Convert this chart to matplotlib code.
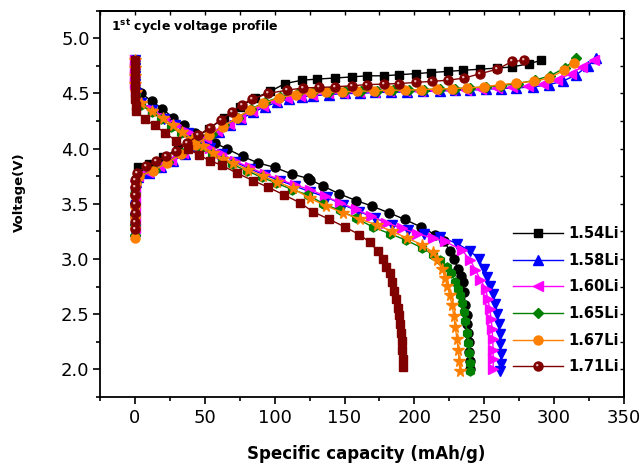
import numpy as np
import matplotlib
matplotlib.use("Agg")
import matplotlib.pyplot as plt
from matplotlib.path import Path
from matplotlib.ticker import MultipleLocator
from matplotlib.legend_handler import HandlerTuple

plt.rcParams['font.family'] = ['DejaVu Sans']
plt.rcParams['mathtext.fontset'] = 'dejavusans'

labels = ["1.54Li", "1.58Li", "1.60Li", "1.65Li", "1.67Li", "1.71Li"]
colors = ["#000000", "#0000FF", "#FF00FF", "#008000", "#FF8000", "#800000"]

# ---- charge curves (capacity mAh/g, voltage V) ----
c154_x = [0, 0, 0, 0.5, 2.2, 10, 20, 31, 42, 53, 64, 75, 86, 97, 107.4, 119.4, 130, 143, 155, 166, 178, 189, 201, 212, 224, 235, 247, 258.8, 270, 281.9, 290.8]
c154_v = [3.35, 3.50, 3.62, 3.72, 3.83, 3.86, 3.92, 4.00, 4.09, 4.18, 4.28, 4.38, 4.46, 4.52, 4.59, 4.62, 4.63, 4.64, 4.65, 4.66, 4.66, 4.67, 4.68, 4.69, 4.70, 4.71, 4.72, 4.73, 4.74, 4.77, 4.80]

c158_x = [0, 0, 0, 0, 0, 0.5, 2.2, 10, 18.9, 27, 35.7, 44, 52.4, 60, 67.9, 76, 84.7, 93, 101.4, 110, 119.4, 127.7, 139, 150, 161, 172, 183, 195, 206, 218, 229, 240, 251, 262, 273, 285, 296, 306, 316, 324, 330]
c158_v = [3.25, 3.35, 3.45, 3.55, 3.63, 3.70, 3.74, 3.78, 3.83, 3.89, 3.95, 4.02, 4.09, 4.15, 4.21, 4.27, 4.33, 4.38, 4.42, 4.45, 4.47, 4.48, 4.49, 4.50, 4.50, 4.51, 4.51, 4.515, 4.52, 4.52, 4.53, 4.53, 4.54, 4.545, 4.55, 4.56, 4.58, 4.61, 4.67, 4.75, 4.82]

c160_x = [0, 0, 0, 0, 0, 0.4, 2.0, 9, 17.5, 26, 34.5, 43, 51, 59, 67, 75, 83.5, 92, 100.5, 109, 118, 127, 138, 149, 160, 171, 182, 193, 204, 215, 226, 237, 248, 259, 270, 281, 292, 302, 312, 320, 328.5]
c160_v = [3.28, 3.38, 3.48, 3.57, 3.65, 3.71, 3.75, 3.79, 3.84, 3.90, 3.96, 4.03, 4.10, 4.16, 4.22, 4.28, 4.34, 4.39, 4.43, 4.46, 4.48, 4.49, 4.50, 4.505, 4.51, 4.515, 4.52, 4.52, 4.525, 4.53, 4.53, 4.535, 4.54, 4.55, 4.555, 4.565, 4.585, 4.62, 4.68, 4.74, 4.80]

c165_x = [0, 0, 0, 0, 0, 0.5, 3, 14.1, 24, 34, 44, 54.8, 64, 73.9, 83, 93, 104, 116.9, 127.7, 139, 150, 162, 173, 185, 196, 207, 218, 229, 240, 251, 262, 274, 286, 297, 307.5, 316]
c165_v = [3.22, 3.31, 3.40, 3.50, 3.60, 3.70, 3.75, 3.81, 3.88, 3.96, 4.04, 4.13, 4.21, 4.28, 4.36, 4.42, 4.47, 4.50, 4.51, 4.515, 4.52, 4.52, 4.525, 4.53, 4.53, 4.535, 4.54, 4.545, 4.55, 4.56, 4.57, 4.59, 4.62, 4.66, 4.73, 4.82]

c167_x = [0, 0, 0, 0, 0, 0.5, 3, 13, 23, 33, 43, 53, 63, 73, 82, 92, 103, 115, 126, 137, 148, 159, 171, 182, 193, 205, 216.2, 227, 238, 250, 261.6, 273, 285.7, 296.3, 307.1, 314.3]
c167_v = [3.19, 3.28, 3.38, 3.48, 3.58, 3.68, 3.75, 3.80, 3.87, 3.95, 4.03, 4.12, 4.20, 4.28, 4.35, 4.41, 4.46, 4.49, 4.505, 4.51, 4.515, 4.52, 4.525, 4.53, 4.53, 4.535, 4.54, 4.545, 4.55, 4.56, 4.58, 4.595, 4.61, 4.64, 4.71, 4.78]

c171_x = [0, 0, 0, 0, 0, 0, 0.3, 1.5, 8.2, 15.4, 22.5, 29.7, 37.5, 45.2, 53.6, 61.5, 69.2, 76.3, 84, 95.4, 108.6, 120.6, 132, 143, 155, 166, 178, 189, 201, 212.6, 224, 235.8, 247.3, 259.3, 270, 278.4]
c171_v = [3.27, 3.34, 3.42, 3.50, 3.58, 3.65, 3.72, 3.78, 3.84, 3.89, 3.93, 3.98, 4.05, 4.12, 4.19, 4.26, 4.33, 4.40, 4.45, 4.50, 4.53, 4.55, 4.555, 4.56, 4.57, 4.58, 4.585, 4.59, 4.60, 4.61, 4.62, 4.64, 4.68, 4.72, 4.79, 4.80]

# ---- discharge curves ----
d154_x = [0, 0, 0, 0, 0.5, 4.6, 12.2, 19.6, 27.3, 35.2, 43, 50, 57.5, 65.6, 77, 88.3, 100.2, 112.2, 124.1, 125.3, 134.9, 146.3, 158.3, 169.6, 181.5, 193, 204.7, 215, 221, 225.8, 228.6, 231, 233, 234.6, 235.5, 236.5, 237.3, 238, 238.4, 238.8, 239.2, 239.6, 240]
d154_v = [4.80, 4.73, 4.66, 4.59, 4.53, 4.50, 4.43, 4.36, 4.28, 4.21, 4.14, 4.09, 4.05, 4.00, 3.93, 3.87, 3.83, 3.77, 3.73, 3.72, 3.66, 3.59, 3.53, 3.48, 3.42, 3.36, 3.29, 3.22, 3.16, 3.07, 3.00, 2.91, 2.85, 2.79, 2.70, 2.58, 2.49, 2.41, 2.33, 2.25, 2.16, 2.08, 2.00]

d158_x = [0, 0, 0, 0, 0.5, 4.6, 12, 21, 29, 38, 46, 54, 62, 71.5, 82, 93, 104, 114.6, 125.3, 137.3, 149.2, 160.7, 172, 183.9, 195.1, 206.6, 218.6, 230.6, 240.1, 246, 249.6, 252.1, 254.4, 256.4, 258, 259.2, 260.4, 261.1, 261.6, 261.8, 261.8, 261.5]
d158_v = [4.80, 4.73, 4.66, 4.59, 4.50, 4.41, 4.35, 4.27, 4.21, 4.14, 4.07, 4.01, 3.95, 3.88, 3.82, 3.76, 3.71, 3.66, 3.61, 3.56, 3.49, 3.43, 3.37, 3.31, 3.26, 3.23, 3.20, 3.14, 3.07, 3.00, 2.91, 2.84, 2.76, 2.68, 2.59, 2.50, 2.41, 2.32, 2.23, 2.14, 2.05, 1.99]

d160_x = [0, 0, 0, 0, 0.5, 4.6, 13, 21.3, 29.5, 38, 46, 53.6, 62.5, 71.5, 82, 93, 104, 114.6, 125.3, 136, 147, 158, 169, 180, 191, 202, 213, 222, 234, 240, 243.7, 247.3, 250.9, 252.5, 253.9, 254.9, 255.6, 256, 256.3, 256.4, 256.4]
d160_v = [4.80, 4.73, 4.66, 4.59, 4.51, 4.42, 4.35, 4.28, 4.21, 4.15, 4.08, 4.01, 3.95, 3.89, 3.83, 3.77, 3.72, 3.67, 3.63, 3.57, 3.51, 3.45, 3.39, 3.33, 3.28, 3.23, 3.19, 3.16, 3.08, 2.99, 2.90, 2.81, 2.73, 2.64, 2.55, 2.46, 2.37, 2.28, 2.18, 2.09, 2.00]

d165_x = [0, 0, 0, 0, 0.5, 4.6, 12, 19, 26, 33, 40, 47.6, 55, 62, 69.2, 80, 90.7, 101, 112.2, 124.1, 134.9, 146.8, 158.3, 170.3, 182.3, 194.2, 205.5, 213.3, 218.6, 223.4, 226.3, 229.3, 231, 232.5, 234, 235.3, 236.5, 237.7, 238.5, 239.2, 239.7, 240.1]
d165_v = [4.80, 4.73, 4.66, 4.59, 4.50, 4.40, 4.33, 4.27, 4.20, 4.14, 4.08, 4.01, 3.95, 3.90, 3.86, 3.80, 3.74, 3.69, 3.63, 3.58, 3.50, 3.44, 3.37, 3.29, 3.23, 3.17, 3.10, 3.04, 2.99, 2.93, 2.87, 2.79, 2.73, 2.67, 2.60, 2.52, 2.44, 2.33, 2.24, 2.15, 2.06, 1.99]

d167_x = [0, 0, 0, 0, 0.5, 4.6, 12.5, 20, 27, 34, 41, 48.5, 56, 63, 70.5, 81, 91.5, 102, 113, 125.3, 137, 148.8, 161, 173.2, 184, 194.7, 205.5, 213.3, 216.2, 219.8, 221.8, 223.4, 225.3, 227, 228.2, 229.3, 230.4, 231.3, 232, 232.5]
d167_v = [4.80, 4.73, 4.66, 4.59, 4.51, 4.41, 4.34, 4.28, 4.21, 4.15, 4.09, 4.02, 3.96, 3.91, 3.87, 3.81, 3.75, 3.70, 3.64, 3.55, 3.48, 3.42, 3.36, 3.31, 3.25, 3.19, 3.13, 3.06, 2.99, 2.91, 2.83, 2.76, 2.67, 2.58, 2.48, 2.38, 2.28, 2.18, 2.08, 1.99]

d171_x = [0, 0, 0, 0, 0, 0.3, 0.7, 1, 7, 14.1, 21.8, 29.7, 38, 46, 54, 62, 72.7, 84.7, 95.4, 106.9, 118.1, 127.2, 139, 150.4, 160.7, 168.4, 173.7, 177.5, 179.8, 182.2, 184.2, 185.6, 187, 188, 189, 189.9, 190.4, 191.1, 191.3, 191.9, 192]
d171_v = [4.80, 4.73, 4.66, 4.59, 4.52, 4.45, 4.39, 4.34, 4.27, 4.21, 4.14, 4.07, 4.00, 3.94, 3.89, 3.85, 3.78, 3.71, 3.65, 3.58, 3.51, 3.43, 3.36, 3.29, 3.22, 3.15, 3.07, 3.00, 2.93, 2.87, 2.79, 2.71, 2.64, 2.56, 2.49, 2.41, 2.33, 2.26, 2.18, 2.09, 2.02]

charge = [(c154_x, c154_v), (c158_x, c158_v), (c160_x, c160_v),
          (c165_x, c165_v), (c167_x, c167_v), (c171_x, c171_v)]
discharge = [(d154_x, d154_v), (d158_x, d158_v), (d160_x, d160_v),
             (d165_x, d165_v), (d167_x, d167_v), (d171_x, d171_v)]

charge_markers = ['s', '^', '<', 'D', 'o', 'o']
charge_ms = [5.5, 6.5, 6.5, 5, 6.5, 6.5]
dis_markers = ['o', 'v', '>', 'h', '*', 's']
dis_ms = [6.5, 6.5, 6.5, 6.5, 8.5, 6]

# highlight marker for the "sphere" symbol
circ = Path.circle(center=(-0.28, 0.3), radius=0.27)
hl_path = Path(np.concatenate([circ.vertices, [[-1, -1], [1, 1]]]),
               np.concatenate([circ.codes, [Path.MOVETO, Path.MOVETO]]))

fig = plt.figure(figsize=(6.44, 4.65), dpi=100)
ax = fig.add_axes([100/644, 1-397/465, 524/644, 386.3/465])

handles = []
for i in range(6):
    cx, cv = charge[i]
    h, = ax.plot(cx, cv, color=colors[i], lw=1.0, marker=charge_markers[i],
                 ms=charge_ms[i], mec=colors[i], mfc=colors[i], zorder=3+i)
    dx, dv = discharge[i]
    ax.plot(dx, dv, color=colors[i], lw=1.0, marker=dis_markers[i],
            ms=dis_ms[i], mec=colors[i], mfc=colors[i], zorder=3+i)
    if i == 5:
        h2, = ax.plot(cx, cv, ls='none', marker=hl_path, ms=charge_ms[i],
                      mfc='#e8b4b4', mec='none', zorder=10)
        handles.append((h, h2))
    else:
        handles.append(h)

ax.set_xlim(-25, 350)
ax.set_ylim(1.75, 5.25)
ax.xaxis.set_minor_locator(MultipleLocator(25))
ax.yaxis.set_minor_locator(MultipleLocator(0.25))
ax.set_xticks(np.arange(0, 351, 50))
ax.set_yticks(np.arange(2.0, 5.01, 0.5))
ax.set_yticklabels([f"{v:.1f}" for v in np.arange(2.0, 5.01, 0.5)])
ax.tick_params(axis='both', which='major', direction='out', length=5, width=1.2,
               labelsize=13, colors='black')
ax.tick_params(axis='both', which='minor', direction='out', length=3, width=1.2)
ax.tick_params(axis='x', which='major', pad=3.5)
ax.tick_params(axis='y', which='major', pad=2.5)
ax.tick_params(top=False, right=False, which='both')

# inward ticks on top/right
secx = ax.secondary_xaxis('top')
secx.set_xticks(np.arange(-25, 351, 25))
secx.tick_params(direction='in', length=3, width=1.0, labeltop=False)
secy = ax.secondary_yaxis('right')
secy.set_yticks(np.arange(2.0, 5.01, 0.25))
secy.tick_params(direction='in', length=3, width=1.0, labelright=False)
for s in ax.spines.values():
    s.set_linewidth(1.3)
secx.spines['top'].set_linewidth(1.3)
secy.spines['right'].set_linewidth(1.3)

fig.text(366.5/644, 1-454/465, "Specific capacity (mAh/g)", ha='center', va='center',
         fontsize=12, fontweight='bold')
fig.text(19.5/644, 1-192/465, "Voltage(V)", ha='center', va='center', rotation=90,
         fontsize=9.5, fontweight='bold')
fig.text(111/644, 1-30.7/465, r"$\mathbf{1^{st}}$ cycle voltage profile", ha='left',
         va='baseline', fontsize=9, fontweight='bold')

ax.legend(handles, labels, loc='upper left', bbox_to_anchor=(512.7/644, 1-226/465),
          bbox_transform=fig.transFigure, frameon=False, borderpad=0, borderaxespad=0,
          handlelength=3.42, handletextpad=0.36, labelspacing=0.80,
          prop={'weight': 'bold', 'size': 10.5},
          handler_map={tuple: HandlerTuple(ndivide=1)})

fig.savefig("out.png", dpi=100)
